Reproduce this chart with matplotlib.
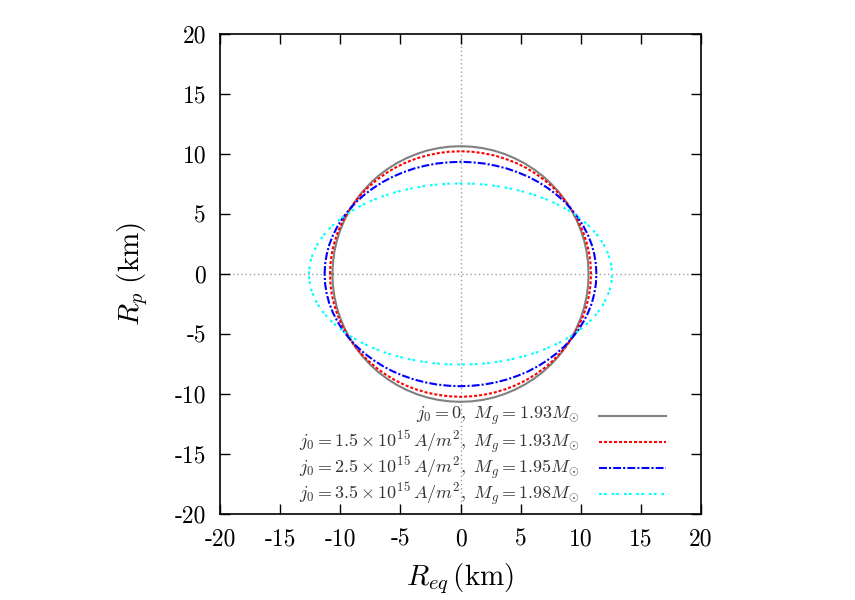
import numpy as np
import matplotlib
matplotlib.use('Agg')
import matplotlib.pyplot as plt

plt.rcParams['font.family'] = 'cmr10'
plt.rcParams['mathtext.fontset'] = 'cm'
plt.rcParams['axes.formatter.use_mathtext'] = True

# upper-left quadrant of each contour (km), equator -> pole
x_j0 = [10.65, 10.61, 10.49, 10.29, 10.01, 9.65, 9.22, 8.72, 8.16, 7.53,
        6.85, 6.11, 5.33, 4.50, 3.64, 2.76, 1.85, 0.93, 0.0]
y_j0 = [0.0, 0.93, 1.85, 2.76, 3.64, 4.50, 5.33, 6.11, 6.85, 7.53,
        8.16, 8.72, 9.22, 9.65, 10.01, 10.29, 10.49, 10.61, 10.65]

x_j15 = [10.85, 10.81, 10.69, 10.48, 10.20, 9.83, 9.40, 8.89, 8.31, 7.67,
         6.97, 6.22, 5.43, 4.59, 3.71, 2.81, 1.88, 0.95, 0.0]
y_j15 = [0.0, 0.89, 1.78, 2.65, 3.50, 4.32, 5.12, 5.87, 6.58, 7.23,
         7.84, 8.38, 8.86, 9.27, 9.61, 9.88, 10.07, 10.19, 10.23]

x_j25 = [11.30, 11.26, 11.13, 10.92, 10.62, 10.24, 9.79, 9.26, 8.66, 7.99,
         7.26, 6.48, 5.65, 4.78, 3.86, 2.92, 1.96, 0.98, 0.0]
y_j25 = [0.0, 0.81, 1.62, 2.42, 3.20, 3.95, 4.68, 5.36, 6.01, 6.61,
         7.16, 7.66, 8.10, 8.47, 8.79, 9.03, 9.21, 9.31, 9.35]

x_j35 = [12.60, 12.55, 12.41, 12.17, 11.84, 11.42, 10.91, 10.32, 9.65, 8.91,
         8.10, 7.23, 6.30, 5.33, 4.31, 3.26, 2.19, 1.10, 0.0]
y_j35 = [0.0, 0.66, 1.31, 1.95, 2.58, 3.19, 3.78, 4.33, 4.85, 5.34,
         5.78, 6.18, 6.54, 6.84, 7.09, 7.29, 7.44, 7.52, 7.55]

labels = [
    r'$j_0 = 0,\ M_g = 1.93M_{\odot}$',
    r'$j_0 = 1.5\times10^{15}\,A/m^2,\ M_g = 1.93M_{\odot}$',
    r'$j_0 = 2.5\times10^{15}\,A/m^2,\ M_g = 1.95M_{\odot}$',
    r'$j_0 = 3.5\times10^{15}\,A/m^2,\ M_g = 1.98M_{\odot}$',
]
ticks = [-20, -15, -10, -5, 0, 5, 10, 15, 20]


def contorno(xq, yq):
    # mirror the quadrant to get the full meridional contour
    xq = np.array(xq)
    yq = np.array(yq)
    x_sup = np.concatenate([-xq, xq[::-1][1:]])
    y_sup = np.concatenate([yq, yq[::-1][1:]])
    x_tot = np.concatenate([x_sup, x_sup[::-1][1:]])
    y_tot = np.concatenate([y_sup, -y_sup[::-1][1:]])
    return x_tot, y_tot


fig = plt.figure(figsize=(8.55, 6.0), dpi=100)
ax = fig.add_axes([0.2573, 0.1433, 0.5626, 0.8])

ax.axhline(0, color='#a0a0a0', lw=1.0, ls=(0, (1, 2)), zorder=1)
ax.axvline(0, color='#a0a0a0', lw=1.0, ls=(0, (1, 2)), zorder=1)

estilos = [
    dict(color='#808080', ls='-'),
    dict(color='#ff0000', ls=(0, (1.45, 0.95))),
    dict(color='#0000ff', ls=(0, (3.8, 1.0, 1.0, 1.0))),
    dict(color='#00ffff', ls=(0, (1.3, 1.0, 1.3, 2.4))),
]
datos = [(x_j0, y_j0), (x_j15, y_j15), (x_j25, y_j25), (x_j35, y_j35)]
for (xq, yq), est in zip(datos, estilos):
    xs, ys = contorno(xq, yq)
    ax.plot(xs, ys, lw=1.5, **est)

# key in gnuplot style: right-justified text, sample to its right
filas_y = [0.204, 0.150, 0.096, 0.042]
for lab, est, fy in zip(labels, estilos, filas_y):
    ax.text(0.748, fy, lab, transform=ax.transAxes, ha='right', va='center',
            fontsize=13, color='#333333')
    ax.plot([0.788, 0.928], [fy, fy], transform=ax.transAxes, lw=1.5,
            clip_on=False, **est)

ax.set_xlim(-20, 20)
ax.set_ylim(-20, 20)
ax.set_xticks(ticks)
ax.set_yticks(ticks)
ax.set_xticklabels([str(t) for t in ticks])
ax.set_yticklabels([str(t) for t in ticks])
ax.tick_params(direction='in', length=7, width=1, top=True, right=True,
               labelsize=17, pad=10)
for s in ax.spines.values():
    s.set_linewidth(1.2)

ax.set_xlabel(r'$R_{eq}\,(\mathrm{km})$', fontsize=21, labelpad=8)
ax.set_ylabel(r'$R_p\ (\mathrm{km})$', fontsize=21, labelpad=18)

fig.savefig('out.png', dpi=100)
